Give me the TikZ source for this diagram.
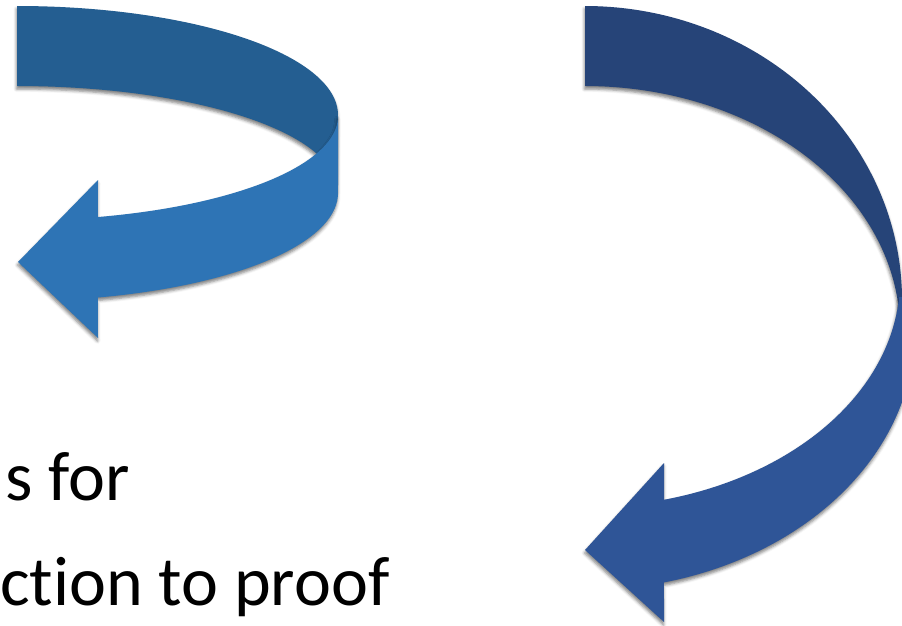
\documentclass[tikz,border=0pt]{standalone}
\usepackage{fontspec}
\setmainfont{Carlito}[Ligatures=NoCommon]
\usetikzlibrary{shadows.blur}
\definecolor{ldark}{HTML}{245E91}
\definecolor{llight}{HTML}{2E74B5}
\definecolor{rdark}{HTML}{264478}
\definecolor{rlight}{HTML}{2F5597}
\tikzset{
  ribbon/.style={blur shadow={shadow xshift=-0.5pt, shadow yshift=-3pt, shadow blur radius=3pt, shadow opacity=50}},
  bigtext/.style={anchor=base west, inner sep=0pt, font=\fontsize{70}{84}\selectfont, text=black}
}
\begin{document}
\begin{tikzpicture}[x=1pt,y=-1pt]
\useasboundingbox (0,0) rectangle (902,626);
\clip (0,0) rectangle (902,626);
% left arrow: back (dark) band
\fill[ldark, ribbon] plot[domain=90:0, samples=80] ({17+321*cos(\x)},{115-109*sin(\x)})
  -- plot[domain=0:90, samples=80] ({17+320*cos(\x)},{190-104*sin(\x)}) -- cycle;
% left arrow: front (light) band with head
\fill[llight, ribbon] plot[domain=0:75.39, samples=80] ({17+321*cos(\x)},{116+104.4*sin(\x)})
  -- (98,180) -- (18,262) -- (98,338)
  -- plot[domain=75.39:0, samples=80] ({17+321*cos(\x)},{193+108*sin(\x)}) -- cycle;
% right arrow: back (dark) band
\fill[rdark, ribbon] plot[domain=90:0, samples=80] ({585+317*cos(\x)},{300-294*sin(\x)})
  -- plot[domain=0:90, samples=80] ({585+315*cos(\x)},{330-244*sin(\x)}) -- cycle;
% right arrow: front (light) band with head
\fill[rlight, ribbon] plot[domain=4.3:75.47, samples=80] ({585+315*cos(\x)},{280+227*sin(\x)})
  -- (664,463) -- (585,550) -- (664,622)
  -- plot[domain=76.15:0, samples=80] ({585+330*cos(\x)},{330+260*sin(\x)})
  -- (915,297) -- cycle;
% text
\node[bigtext] (line1) at (5,500) {s for};
\node[bigtext] (line2) at (0,605) {ction to proof};
\end{tikzpicture}
\end{document}
